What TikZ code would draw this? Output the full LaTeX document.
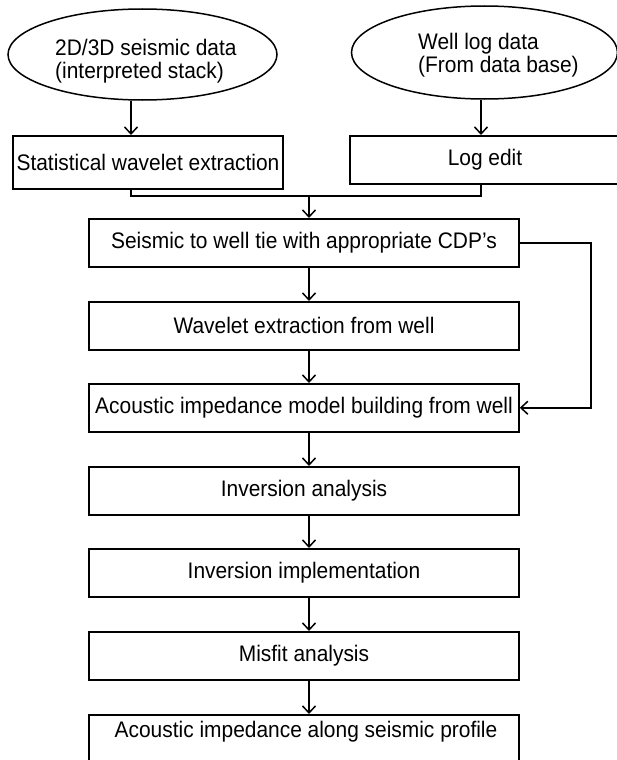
\documentclass[tikz,border=0pt]{standalone}
\usepackage{fontspec}
\setmainfont{Liberation Sans}[FakeStretch=0.93]
\usetikzlibrary{shapes.geometric,arrows.meta}
\begin{document}
\begin{tikzpicture}[x=1pt,y=-1pt,
  every node/.style={font=\fontsize{22.5}{23}\selectfont},
  box/.style={draw, line width=1.5pt, minimum width=430, minimum height=48, inner sep=0, anchor=north},
  oval/.style={draw, ellipse, line width=1.5pt, inner sep=0, align=left},
  ovaltext/.style={anchor=base west, inner sep=0, align=left},
  conn/.style={line width=1.5pt},
  arr/.style={conn, -{Straight Barb[length=7pt,width=13pt,line width=1.5pt]}}]
\useasboundingbox (0,0) rectangle (617,760);
\node[oval, minimum width=269, minimum height=91] (e1) at (142.5,54.5) {};
\node[ovaltext] (e1t) at (55,78) {2D/3D seismic data\\(interpreted stack)};
\node[oval, minimum width=266, minimum height=93] (e2) at (484.5,52.5) {};
\node[ovaltext] (e2t) at (418,73) {Well log data\\(From data base)};
\node[box, minimum width=270, minimum height=53] (b1) at (148,135) {Statistical wavelet extraction};
\node[box, minimum width=270, minimum height=48] (b2) at (485,135) {Log edit};
\node[box] (b3) at (304,218) {Seismic to well tie with appropriate CDP’s};
\node[box] (b4) at (304,301) {Wavelet extraction from well};
\node[box] (b5) at (304,383) {Acoustic impedance model building from well};
\node[box] (b6) at (304,466) {Inversion analysis};
\node[box] (b7) at (304,548) {Inversion implementation};
\node[box] (b8) at (304,631) {Misfit analysis};
\node[box, minimum height=64] (b9) at (304,714) {};
\node[anchor=base] (b9t) at (306,737) {Acoustic impedance along seismic profile};
\coordinate (ax1) at (131,0);
\coordinate (ax2) at (481,0);
\coordinate (mx) at (309,0);
\coordinate (jy) at (0,196);
\coordinate (fx) at (591,0);
\draw[arr] (e1.south -| ax1) -- (b1.north -| ax1);
\draw[arr] (e2.south -| ax2) -- (b2.north -| ax2);
\draw[conn] (b1.south -| ax1) -- (ax1 |- jy) -- (ax2 |- jy) -- (b2.south -| ax2);
\draw[arr] (mx |- jy) -- (b3.north -| mx);
\draw[arr] (b3.south -| mx) -- (b4.north -| mx);
\draw[arr] (b4.south -| mx) -- (b5.north -| mx);
\draw[arr] (b5.south -| mx) -- (b6.north -| mx);
\draw[arr] (b6.south -| mx) -- (b7.north -| mx);
\draw[arr] (b7.south -| mx) -- (b8.north -| mx);
\draw[arr] (b8.south -| mx) -- (b9.north -| mx);
\draw[arr] (b3.east) -- (fx |- b3.east) -- (fx |- b5.east) -- (b5.east);
\end{tikzpicture}
\end{document}
